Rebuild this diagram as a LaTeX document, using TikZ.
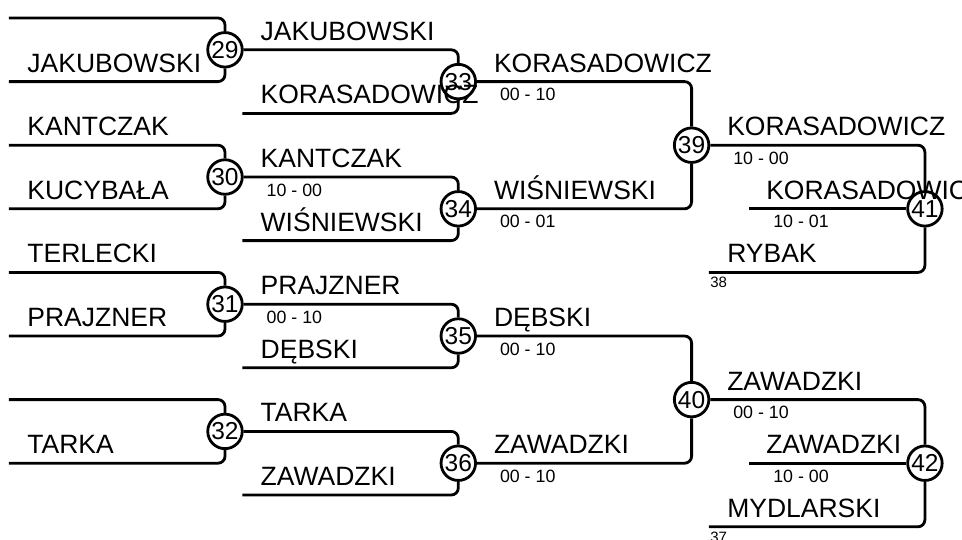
\documentclass[tikz,border=0pt]{standalone}
\usepackage{fontspec}
\setmainfont{Liberation Sans}
\usetikzlibrary{positioning}
\def\colsep{233.3pt}
\def\rowsep{31.8pt}
\def\joinsep{216pt}

\begin{document}
\begin{tikzpicture}[line width=2.8pt, draw=black]
    \tikzstyle{game}=[circle, draw=black, minimum size=34.5pt, inner sep=0pt, font=\fontsize{24.5}{24}\selectfont]
    \tikzstyle{player}=[anchor=base west, inner sep=0pt, font=\fontsize{26.5}{28}\selectfont]
    \tikzstyle{score}=[anchor=base west, inner sep=0pt, font=\fontsize{17.8}{20}\selectfont]
    \tikzstyle{seed}=[inner sep=0pt, font=\fontsize{15}{16}\selectfont]
    \tikzstyle{bracket}=[rounded corners=7pt]

    \useasboundingbox (-9pt,18pt) rectangle (953pt,-521pt);

    % Draw the game circles
    \foreach \num / \col / \row in {29/0/1, 30/0/5, 31/0/9, 32/0/13,
                                    33/1/2, 34/1/6, 35/1/10, 36/1/14,
                                    39/2/4, 40/2/12, 41/3/6, 42/3/14}
        \node[game] (M-\num) at (\col*\colsep+\joinsep, -\row*\rowsep) {\num};

    % Free ends of the entry lines
    \foreach \row in {0,2,...,14}
        \coordinate (E0-\row) at (0, -\row*\rowsep);
    \foreach \row in {3,7,11,15}
        \coordinate (E1-\row) at (\colsep, -\row*\rowsep);
    \foreach \row in {8,16}
        \coordinate (E3-\row) at (3*\colsep, -\row*\rowsep);
    \foreach \row in {6,14}
        \coordinate (F3-\row) at (3*\colsep+40pt, -\row*\rowsep);

    % First round
    \foreach \num / \top / \bot in {29/0/2, 30/4/6, 31/8/10, 32/12/14} {
        \draw[bracket] (E0-\top) -| (M-\num.north);
        \draw[bracket] (E0-\bot) -| (M-\num.south);
    }

    % Second round
    \foreach \num / \from / \bot in {33/29/3, 34/30/7, 35/31/11, 36/32/15} {
        \draw[bracket] (M-\from.east) -| (M-\num.north);
        \draw[bracket] (E1-\bot) -| (M-\num.south);
    }

    % Third round
    \foreach \num / \up / \down in {39/33/34, 40/35/36} {
        \draw[bracket] (M-\up.east) -| (M-\num.north);
        \draw[bracket] (M-\down.east) -| (M-\num.south);
    }

    % Last games, with the player coming in from below
    \foreach \num / \from / \row / \mid in {41/39/8/6, 42/40/16/14} {
        \draw[bracket] (M-\from.east) -| (M-\num.north);
        \draw[bracket] (E3-\row) -| (M-\num.south);
        \draw (F3-\mid) -- (M-\num.west);
    }

    % Player names above the lines
    \foreach \col / \row / \name in {0/2/JAKUBOWSKI, 0/4/KANTCZAK, 0/6/KUCYBAŁA,
            0/8/TERLECKI, 0/10/PRAJZNER, 0/14/TARKA,
            1/1/JAKUBOWSKI, 1/3/KORASADOWICZ, 1/5/KANTCZAK, 1/7/WIŚNIEWSKI,
            1/9/PRAJZNER, 1/11/DĘBSKI, 1/13/TARKA, 1/15/ZAWADZKI,
            2/2/KORASADOWICZ, 2/6/WIŚNIEWSKI, 2/10/DĘBSKI, 2/14/ZAWADZKI,
            3/4/KORASADOWICZ, 3/8/RYBAK, 3/12/ZAWADZKI, 3/16/MYDLARSKI}
        \node[player] (P\col-\row) at (\col*\colsep+17pt, -\row*\rowsep+9.5pt) {\name};
    \foreach \row / \name in {6/KORASADOWICZ, 14/ZAWADZKI}
        \node[player] (Q3-\row) at (3*\colsep+56pt, -\row*\rowsep+9.5pt) {\name};

    % Results below the lines
    \foreach \col / \row / \res in {1/5/10 - 00, 1/9/00 - 10,
            2/2/00 - 10, 2/6/00 - 01, 2/10/00 - 10, 2/14/00 - 10,
            3/4/10 - 00, 3/12/00 - 10}
        \node[score] (S\col-\row) at (\col*\colsep+23pt, -\row*\rowsep-19pt) {\res};
    \foreach \row / \res in {6/10 - 01, 14/10 - 00}
        \node[score] (T3-\row) at (3*\colsep+63pt, -\row*\rowsep-19pt) {\res};

    % Where the bottom players come from
    \node[seed, below right=3.5pt and 0pt of E3-8] (from38) {38};
    \node[seed, below right=3.5pt and 0pt of E3-16] (from37) {37};
\end{tikzpicture}
\end{document}
